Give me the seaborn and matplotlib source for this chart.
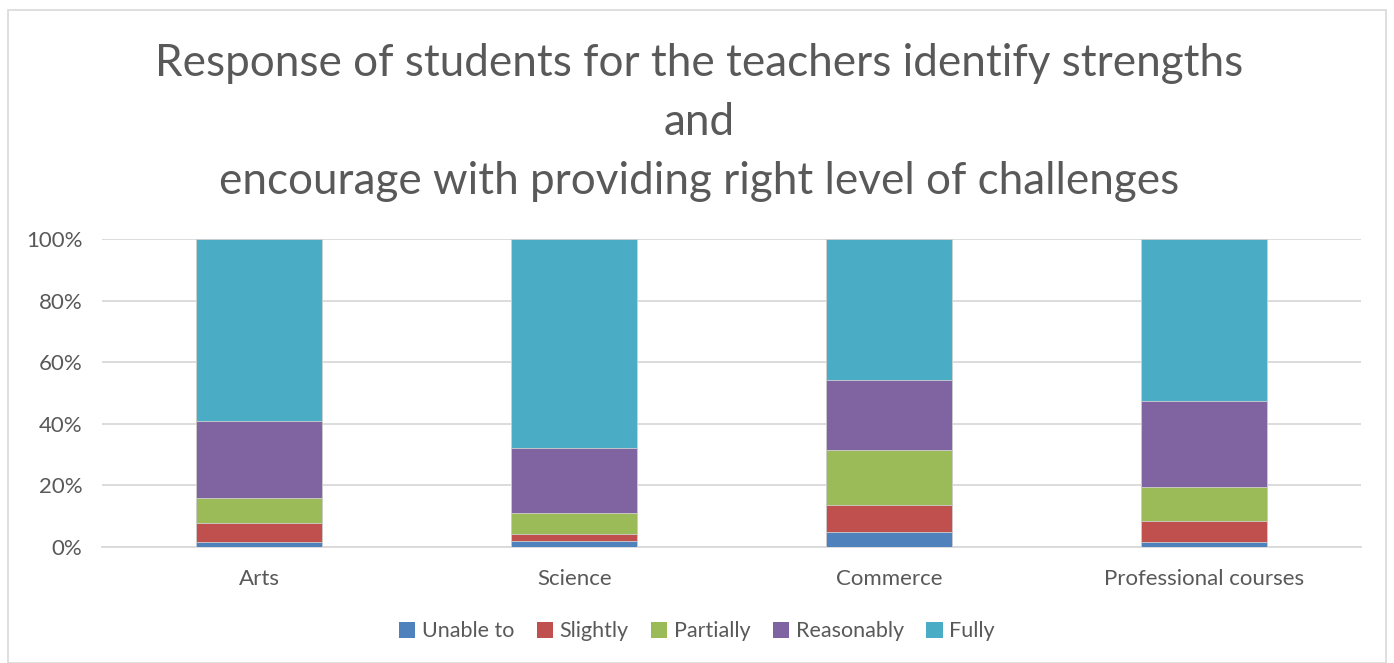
import numpy as np
import pandas as pd
import matplotlib
matplotlib.use("Agg")
import matplotlib.pyplot as plt
import seaborn as sns
from matplotlib.patches import Rectangle, Patch

categories = ["Arts", "Science", "Commerce", "Professional courses"]
series_names = ["Unable to", "Slightly", "Partially", "Reasonably", "Fully"]
unable_to = [1.5, 2.0, 5.0, 1.7]
slightly = [6.4, 2.3, 8.6, 6.6]
partially = [8.0, 6.8, 17.8, 11.3]
reasonably = [24.9, 20.9, 22.8, 27.7]
fully = [59.2, 68.0, 45.8, 52.7]
ytick_labels = ["0%", "20%", "40%", "60%", "80%", "100%"]
title_text = ("Response of students for the teachers identify strengths\nand\n"
              "encourage with providing right level of challenges")

colors = ["#4F81BD", "#C0504D", "#9BBB59", "#8064A2", "#4BACC6"]

sns.set_theme(style="white")
plt.rcParams["font.family"] = ["Lato", "DejaVu Sans"]

values = np.array([unable_to, slightly, partially, reasonably, fully])
totals = values.sum(axis=0)
shares = values / totals * 100
cum = np.cumsum(shares, axis=0)

fig = plt.figure(figsize=(13.94, 6.63), dpi=100)
fig.patches.append(Rectangle((0.006, 0.0), 0.988, 0.985, transform=fig.transFigure,
                             fill=False, edgecolor="#D9D9D9", linewidth=1.2, zorder=0))
ax = fig.add_axes([0.0732, 0.175, 0.9031, 0.4646])

for i in range(len(series_names) - 1, -1, -1):
    df = pd.DataFrame({"category": categories, "value": cum[i]})
    sns.barplot(data=df, x="category", y="value", color=colors[i], width=0.4,
                saturation=1, ax=ax, edgecolor="#D0D0D0", linewidth=0.6, zorder=3)

ax.set_xlim(-0.5, 3.5)
ax.set_ylim(0, 100)
ax.set_yticks(np.arange(0, 101, 20))
ax.set_yticklabels(ytick_labels)
ax.set_xlabel("")
ax.set_ylabel("")
ax.yaxis.grid(True, color="#D9D9D9", linewidth=1.3, zorder=0)
ax.xaxis.grid(False)
for s in ["top", "right", "left"]:
    ax.spines[s].set_visible(False)
ax.spines["bottom"].set_color("#D9D9D9")
ax.spines["bottom"].set_linewidth(1.3)
ax.tick_params(axis="y", length=0, pad=14, labelsize=16, labelcolor="#595959")
ax.tick_params(axis="x", length=0, pad=16, labelsize=16, labelcolor="#595959")

fig.text(0.5015, 0.815, title_text, ha="center", va="center", fontsize=31.7,
         color="#595959", linespacing=1.55)

handles = [Patch(facecolor=c, edgecolor="none") for c in colors]
fig.legend(handles, series_names, loc="center", bbox_to_anchor=(0.5, 0.048), ncol=5,
           frameon=False, fontsize=15.5, labelcolor="#595959", handlelength=0.75,
           handleheight=0.75, handletextpad=0.3, columnspacing=1.05)

fig.savefig("out.png", dpi=100)
